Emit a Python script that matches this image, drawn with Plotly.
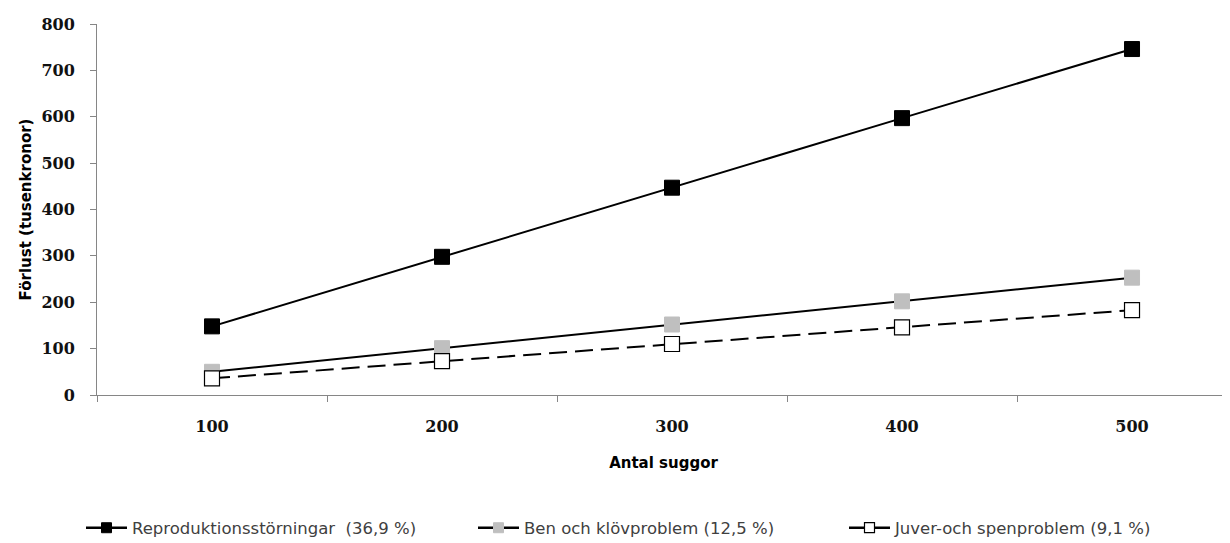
import plotly.graph_objects as go

categories = ["100", "200", "300", "400", "500"]
reproduktion = [148, 298, 447, 597, 746]
ben_klov = [50, 101, 152, 202, 253]
juver_spen = [36, 73, 110, 146, 183]
series_names = [
    "Reproduktionsstörningar\u00a0 (36,9 %)",
    "Ben och klövproblem (12,5 %)",
    "Juver-och spenproblem (9,1 %)",
]
y_ticks = [0, 100, 200, 300, 400, 500, 600, 700, 800]

SANS = "DejaVu Sans"
SERIF = "DejaVu Serif"

W, H = 1230, 543
OFF = 8  # page body margin

styles = [
    dict(line=dict(color="black", width=2),
         fill="black", edge="black", edge_w=1),
    dict(line=dict(color="black", width=2),
         fill="#bfbfbf", edge="#bfbfbf", edge_w=1),
    dict(line=dict(color="black", width=2, dash="18px,8px"),
         fill="white", edge="black", edge_w=1.2),
]
all_series = [reproduktion, ben_klov, juver_spen]
legend_ids = ["legend", "legend2", "legend3"]
legend_x_px = [73, 465, 836]

fig = go.Figure()
for vals, st in zip(all_series, styles):
    fig.add_trace(go.Scatter(
        x=categories, y=vals, mode="lines+markers", showlegend=False,
        line=st["line"],
        marker=dict(symbol="square", size=15, color=st["fill"],
                    line=dict(color=st["edge"], width=st["edge_w"])),
    ))
# legend-only entries with smaller markers
for name, st, lid in zip(series_names, styles, legend_ids):
    ln = dict(st["line"])
    ln["width"] = 2.5
    if "dash" in ln:
        ln["dash"] = "solid"
    fig.add_trace(go.Scatter(
        x=[None], y=[None], name=name, mode="lines+markers", legend=lid,
        line=ln,
        marker=dict(symbol="square", size=10, color=st["fill"],
                    line=dict(color=st["edge"], width=st["edge_w"])),
    ))

leg_common = dict(
    orientation="h", xref="container", yref="container",
    xanchor="left", yanchor="middle", y=1 - (528 - OFF) / H,
    font=dict(family=SANS, size=16.5, color="#404040"),
    bgcolor="rgba(0,0,0,0)", itemwidth=41,
)

fig.update_layout(
    width=W, height=H,
    margin=dict(l=97 - OFF, r=OFF, t=24 - OFF, b=H - (395 - OFF)),
    paper_bgcolor="white", plot_bgcolor="white",
    font=dict(family=SANS, color="#000"),
    showlegend=True,
    legend=dict(leg_common, x=legend_x_px[0] / W),
    legend2=dict(leg_common, x=legend_x_px[1] / W),
    legend3=dict(leg_common, x=legend_x_px[2] / W),
    xaxis=dict(
        type="category", range=[-0.5, 4.426],
        showline=True, linecolor="#868686", linewidth=1,
        ticks="outside", tickson="boundaries", ticklen=6, tickcolor="#868686",
        showgrid=False, zeroline=False,
        tickfont=dict(family=SERIF, size=16, weight="bold", color="#111"),
        ticklabelstandoff=17,
        title=dict(text="Antal suggor", font=dict(family=SANS, size=15, weight="bold"), standoff=22),
    ),
    yaxis=dict(
        range=[0, 800], tickvals=y_ticks,
        showline=True, linecolor="#868686", linewidth=1,
        ticks="outside", ticklen=6, tickcolor="#868686",
        showgrid=False, zeroline=False,
        tickfont=dict(family=SERIF, size=16, weight="bold", color="#111"),
        ticklabelstandoff=12,
        title=dict(text="Förlust (tusenkronor)", font=dict(family=SANS, size=15, weight="bold"), standoff=6),
    ),
)

fig.write_html("out.html")
